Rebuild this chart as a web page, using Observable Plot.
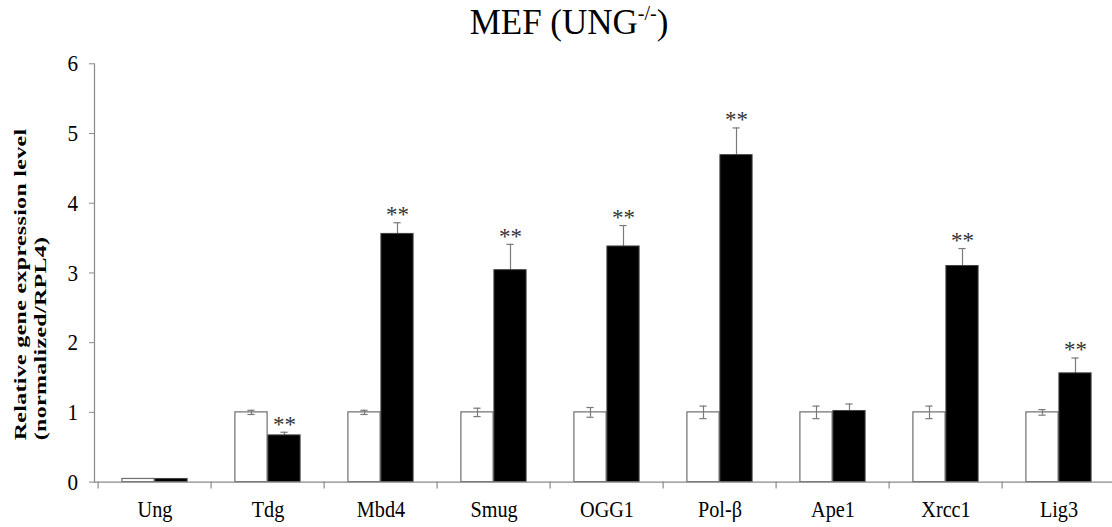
<!DOCTYPE html>
<html>
<head>
<meta charset="utf-8">
<script src="https://cdn.jsdelivr.net/npm/d3@7"></script>
<script src="https://cdn.jsdelivr.net/npm/@observablehq/plot@0.6"></script>
<style>
  html, body { margin: 0; padding: 0; background: #fff; }
  #title {
    box-sizing: border-box; width: 1112px; height: 48px; padding-left: 26px;
    text-align: center; font-family: "Liberation Serif", serif; font-size: 35px;
    line-height: 46px; color: #000; white-space: nowrap;
  }
  #title .sup { font-size: 20px; position: relative; top: -14px; }
  #chart svg { display: block; overflow: visible; }
</style>
</head>
<body>
<div id="title">MEF (UNG<span class="sup">-/-</span>)</div>
<div id="chart"></div>
<script>
// ---- data ----
const genes = ["Ung", "Tdg", "Mbd4", "Smug", "OGG1", "Pol-β", "Ape1", "Xrcc1", "Lig3"];
const controlValues = [0.045, 1.00, 1.00, 1.00, 1.00, 1.00, 1.00, 1.00, 1.00];
const controlErrors = [0.00, 0.03, 0.03, 0.06, 0.07, 0.09, 0.09, 0.09, 0.04];
const ungKoValues  = [0.045, 0.67, 3.56, 3.04, 3.38, 4.69, 1.02, 3.10, 1.56];
const ungKoErrors  = [0.00, 0.045, 0.16, 0.37, 0.30, 0.39, 0.10, 0.25, 0.22];
const significance = ["", "**", "**", "**", "**", "**", "", "**", "**"];
const yTicks = [0, 1, 2, 3, 4, 5, 6];
const yTitle = "Relative gene expression level\n(normalized/RPL4)";

// table built from the arrays
const rows = genes.map((g, i) => ({
  gene: g,
  ctrl: controlValues[i], ctrlErr: controlErrors[i],
  ko: ungKoValues[i], koErr: ungKoErrors[i],
  sig: significance[i]
}));

// ---- layout ----
const W = 1112, H = 479;
const left = 94, xEnd = 1118.2;
const step = (xEnd - left) / genes.length;
const half = step / 2;
const barW = 33;
const cap = 4;
const axisGray = "#898989";
const errGray = "#7a7a7a";

const chart = Plot.plot({
  width: W, height: H,
  marginTop: 15.3, marginBottom: 45.4, marginLeft: left, marginRight: 0,
  style: { fontFamily: "Liberation Serif, serif", background: "#fff", overflow: "visible" },
  x: { domain: genes, range: [left, xEnd], padding: 0, axis: null },
  y: { domain: [0, 6], axis: null },
  marks: [
    // knockout error bars (drawn first so the black bar hides their lower half)
    Plot.ruleX(rows.filter(d => d.koErr > 0), { x: "gene", dx: barW / 2, y1: d => d.ko - d.koErr, y2: d => d.ko + d.koErr, stroke: errGray, strokeWidth: 1.2 }),
    Plot.tickY(rows.filter(d => d.koErr > 0), { x: "gene", y: d => d.ko + d.koErr, insetLeft: half + barW / 2 - cap, insetRight: half - barW / 2 - cap, stroke: errGray, strokeWidth: 1.2 }),
    // bars
    Plot.barY(rows, { x: "gene", y: "ctrl", fill: "#fff", stroke: "#6e6e6e", strokeWidth: 1.2, insetLeft: half - barW, insetRight: half }),
    Plot.barY(rows, { x: "gene", y: "ko", fill: "#000", stroke: "#444", strokeWidth: 1, insetLeft: half, insetRight: half - barW }),
    // control error bars
    Plot.ruleX(rows.filter(d => d.ctrlErr > 0), { x: "gene", dx: -barW / 2, y1: d => d.ctrl - d.ctrlErr, y2: d => d.ctrl + d.ctrlErr, stroke: errGray, strokeWidth: 1.2 }),
    Plot.tickY(rows.filter(d => d.ctrlErr > 0), { x: "gene", y: d => d.ctrl + d.ctrlErr, insetLeft: half - barW / 2 - cap, insetRight: half + barW / 2 - cap, stroke: errGray, strokeWidth: 1.2 }),
    Plot.tickY(rows.filter(d => d.ctrlErr > 0), { x: "gene", y: d => d.ctrl - d.ctrlErr, insetLeft: half - barW / 2 - cap, insetRight: half + barW / 2 - cap, stroke: errGray, strokeWidth: 1.2 }),
    // significance stars
    Plot.text(rows.filter(d => d.sig), { x: "gene", dx: barW / 2, y: d => d.ko + d.koErr, text: "sig", dy: -8, fontSize: 23, fill: "#333" }),
    // axes
    Plot.ruleY([0], { stroke: axisGray, strokeWidth: 1.2 }),
    Plot.frame({ anchor: "left", stroke: axisGray, strokeWidth: 1.2 }),
    Plot.ruleX(genes, { x: d => d, dx: -half, y1: 0, y2: -0.1, stroke: axisGray, strokeWidth: 1.2 }),
    Plot.axisY({ ticks: yTicks, tickFormat: d => String(d), tickSize: 5, tickPadding: 11.5, fontSize: 24, stroke: axisGray, fill: "#000", label: null }),
    Plot.axisX({ tickSize: 0, tickPadding: 18.8, fontSize: 23, fill: "#000", label: null }),
    Plot.text([yTitle], { frameAnchor: "left", textAnchor: "start", lineAnchor: "top", rotate: -90, fontSize: 24, fontWeight: "bold", lineHeight: 1.16, fill: "#000" })
  ]
});
document.getElementById("chart").appendChild(chart);

// Condense label glyphs horizontally like the reference (narrow serif look),
// and place the rotated y-title so both lines start near the bottom.
const yScale = chart.scale("y");
const tickLabels = new Set(yTicks.map(String).concat(genes));
d3.select(chart).selectAll("text").each(function () {
  const content = this.textContent;
  const tr = this.getAttribute("transform") || "";
  if (content.startsWith("Relative")) {
    const yStart = yScale.apply(0.6);
    this.setAttribute("transform", `translate(11,${yStart}) scale(0.72,1) rotate(-90)`);
    this.setAttribute("letter-spacing", "0.3");
  } else if (tickLabels.has(content)) {
    this.setAttribute("transform", tr + " scale(0.88,1)");
  }
});
</script>
</body>
</html>
